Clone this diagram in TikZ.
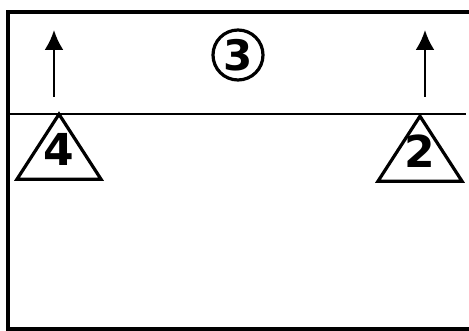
\documentclass[tikz,border=0pt]{standalone}
\usepackage{fontspec}
\setmainfont{DejaVu Sans}
\definecolor{InkBlack}{HTML}{000000}
\usetikzlibrary{arrows.meta,positioning,shapes.geometric}
\tikzset{
  frameline/.style={draw=InkBlack, line width=3.5pt},
  divline/.style={draw=InkBlack, line width=1.3pt},
  markTri/.style={draw=InkBlack, line width=3.2pt, isosceles triangle, shape border rotate=90, isosceles triangle stretches, minimum width=84pt, minimum height=65pt, inner sep=0pt},
  markDigit/.style={inner sep=0pt, font=\fontsize{44}{44}\selectfont\bfseries},
  markCircle/.style={draw=InkBlack, line width=3.2pt, circle, minimum size=50pt, inner sep=0pt, font=\fontsize{42}{42}\selectfont\bfseries},
  upArrow/.style={-{Latex[length=20pt, width=19pt]}, draw=InkBlack, line width=2.4pt}
}
\begin{document}
\begin{tikzpicture}[x=1pt, y=-1pt]
\useasboundingbox (0,0) rectangle (469,331);
% frame, open at the right
\draw[frameline] (469,12) -- (8,12) -- (8,329) -- (469,329);
\draw[divline] (10,114) coordinate (divL) -- (466,114) coordinate (divR);
% markers
\node[markCircle] (c3) at (238,55) {3};
\node[markTri, anchor=apex] (t4) at (59,110) {};
\node[markDigit] (n4) at ([yshift=-39pt]t4.apex) {4};
\node[markTri, anchor=apex] (t2) at (420,112) {};
\node[markDigit] (n2) at ([yshift=-39pt]t2.apex) {2};
% arrows
\coordinate (a4foot) at (54,97);
\coordinate (a4tip) at (54,30);
\coordinate (a2foot) at (425,97);
\coordinate (a2tip) at (425,30);
\draw[upArrow] (a4foot) -- (a4tip);
\draw[upArrow] (a2foot) -- (a2tip);
\end{tikzpicture}
\end{document}
